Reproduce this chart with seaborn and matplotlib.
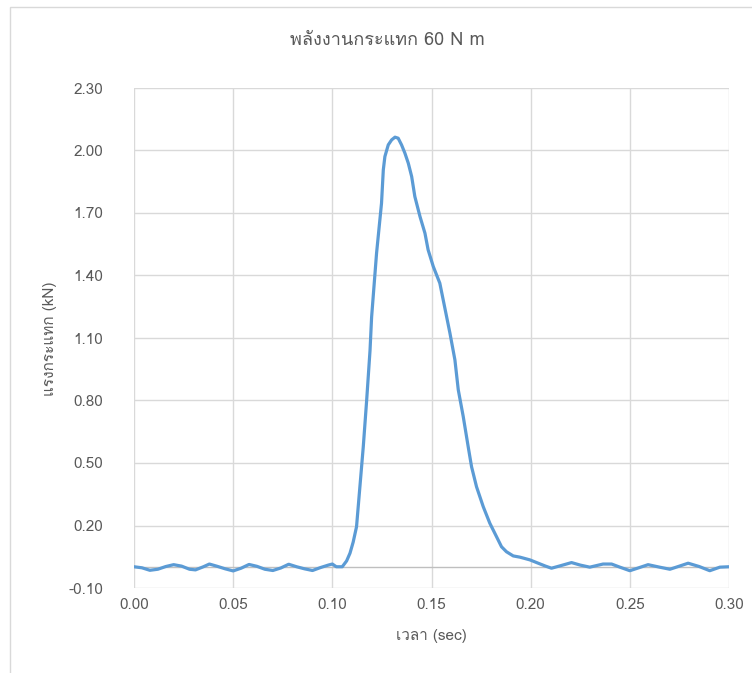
import matplotlib
matplotlib.use("Agg")
import matplotlib.pyplot as plt
from matplotlib import font_manager
from matplotlib.ft2font import FT2Font
from matplotlib.patches import Rectangle
import seaborn as sns
import pandas as pd

# Impact force record, 60 N m impact energy
time_s = [0.000, 0.004, 0.008, 0.012, 0.016, 0.020, 0.024, 0.028, 0.031, 0.035,
          0.038, 0.042, 0.046, 0.050, 0.054, 0.058, 0.062, 0.066, 0.070, 0.074,
          0.078, 0.082, 0.086, 0.090, 0.094, 0.098, 0.100, 0.102, 0.105, 0.1072,
          0.1089, 0.1105, 0.1122, 0.1139, 0.1156, 0.1173, 0.1190, 0.1198, 0.1223, 0.1248,
          0.1257, 0.1265, 0.1282, 0.1299, 0.1316, 0.1332, 0.1349, 0.1366, 0.1383, 0.1400,
          0.1416, 0.1442, 0.1467, 0.1483, 0.1509, 0.1542, 0.1559, 0.1576, 0.1593, 0.1618,
          0.1635, 0.1660, 0.1685, 0.1702, 0.1727, 0.1761, 0.1794, 0.1828, 0.1853, 0.1878,
          0.1912, 0.1946, 0.1996, 0.2038, 0.2075, 0.2105, 0.2147, 0.2206, 0.2250, 0.2298,
          0.2365, 0.2408, 0.2450, 0.2500, 0.2545, 0.2592, 0.2650, 0.2702, 0.2750, 0.2794,
          0.2850, 0.2903, 0.2954, 0.3000]
force_kn = [0.002, -0.003, -0.015, -0.010, 0.003, 0.012, 0.005, -0.010, -0.013, 0.002,
            0.015, 0.004, -0.008, -0.018, -0.005, 0.013, 0.004, -0.010, -0.016, -0.004,
            0.014, 0.002, -0.008, -0.016, -0.002, 0.010, 0.015, 0.002, 0.002, 0.030,
            0.067, 0.120, 0.194, 0.386, 0.578, 0.800, 1.040, 1.200, 1.507, 1.747,
            1.907, 1.971, 2.027, 2.051, 2.064, 2.059, 2.027, 1.987, 1.939, 1.875,
            1.779, 1.683, 1.603, 1.523, 1.443, 1.363, 1.283, 1.203, 1.123, 0.995,
            0.851, 0.723, 0.578, 0.482, 0.386, 0.290, 0.211, 0.146, 0.098, 0.074,
            0.054, 0.048, 0.035, 0.019, 0.005, -0.005, 0.006, 0.022, 0.010, 0.000,
            0.015, 0.015, 0.000, -0.017, -0.003, 0.012, 0.000, -0.010, 0.005, 0.019,
            0.003, -0.017, 0.000, 0.002]

x_ticks = [0.00, 0.05, 0.10, 0.15, 0.20, 0.25, 0.30]
y_ticks = [-0.10, 0.20, 0.50, 0.80, 1.10, 1.40, 1.70, 2.00, 2.30]

title_text = "พลังงานกระแทก 60 N m"
x_label = "เวลา (sec)"
y_label = "แรงกระแทก (kN)"

sns.set_theme(style="whitegrid")


def thai_families():
    """Installed families that carry Thai glyphs."""
    found = []
    for entry in font_manager.fontManager.ttflist:
        try:
            cmap = FT2Font(entry.fname).get_charmap()
        except Exception:
            continue
        if ord("ก") in cmap and entry.name not in found:
            found.append(entry.name)
    return found


thai = thai_families()
families = thai[:1] + ["Liberation Sans", "DejaVu Sans"]
plt.rcParams["font.family"] = families

text_color = "#595959"
grid_color = "#D9D9D9"

df = pd.DataFrame({"t": time_s, "F": force_kn})

fig = plt.figure(figsize=(7.52, 6.73), dpi=100)
ax = fig.add_axes([134 / 752, 1 - 588 / 673, (729 - 134) / 752, (588 - 88) / 673])

ax.axhline(0, color="#BFBFBF", lw=1.0, zorder=1)
sns.lineplot(data=df, x="t", y="F", ax=ax, color="#5B9BD5", lw=2.3,
             sort=False, zorder=3)

ax.set_xlim(0, 0.30)
ax.set_ylim(-0.10, 2.30)
ax.set_xticks(x_ticks)
ax.set_yticks(y_ticks)
ax.set_xticklabels([f"{v:.2f}" for v in x_ticks])
ax.set_yticklabels([f"{v:.2f}" for v in y_ticks])
ax.tick_params(axis="both", length=0, labelsize=11, labelcolor=text_color)
ax.tick_params(axis="y", pad=22)
ax.tick_params(axis="x", pad=7)
ax.grid(True, color=grid_color, lw=1.0)
for s in ax.spines.values():
    s.set_visible(False)
ax.set_facecolor("white")

ax.set_xlabel("")
ax.set_ylabel("")
fig.text(431.5 / 752, 1 - 636 / 673, x_label, ha="center", va="center",
         fontsize=11, color=text_color)
fig.text(50 / 752, 1 - 339 / 673, y_label, ha="center", va="center",
         rotation=90, fontsize=11, color=text_color)
fig.text(387.5 / 752, 1 - 40 / 673, title_text, ha="center", va="center",
         fontsize=13, color=text_color)

# chart frame
fig.patches.append(Rectangle((10 / 752, -0.1), 1.2, 1 - 7 / 673 + 0.1,
                             transform=fig.transFigure, fill=False,
                             edgecolor=grid_color, lw=1.0))

fig.savefig("out.png", dpi=100, facecolor="white")
